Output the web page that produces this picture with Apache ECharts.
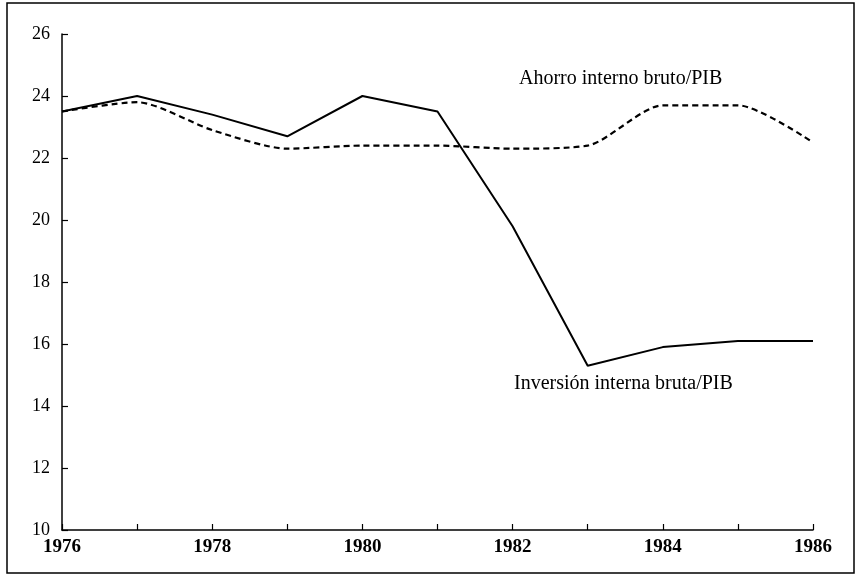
<!DOCTYPE html>
<html>
<head>
<meta charset="utf-8">
<script src="https://cdn.jsdelivr.net/npm/echarts@6/dist/echarts.min.js"></script>
<style>
html,body{margin:0;padding:0;background:#fff;}
#chart{width:859px;height:584px;}
</style>
</head>
<body>
<div id="chart"></div>
<script>
// datos
var years = [1976, 1977, 1978, 1979, 1980, 1981, 1982, 1983, 1984, 1985, 1986];
var inversion = [23.5, 24.0, 23.4, 22.7, 24.0, 23.5, 19.8, 15.3, 15.9, 16.1, 16.1];
var ahorro = [23.5, 23.8, 22.9, 22.3, 22.4, 22.4, 22.3, 22.4, 23.7, 23.7, 22.5];
var yTicks = [10, 12, 14, 16, 18, 20, 22, 24, 26];

function pares(vals){
	var out = [];
	for (var i = 0; i < years.length; i++) {
		out.push([years[i], vals[i]]);
	}
	return out;
}

var serif = 'Liberation Serif';
var myChart = echarts.init(document.getElementById('chart'));
var option = {
	animation: false,
	backgroundColor: '#fff',
	textStyle: {fontFamily: serif, color: '#000'},
	grid: {left: 62, right: 46, top: 34, bottom: 54},
	xAxis: {
		type: 'value',
		min: 1976,
		max: 1986,
		interval: 1,
		splitLine: {show: false},
		axisLine: {lineStyle: {color: '#000', width: 1.5}},
		axisTick: {inside: true, length: 6, lineStyle: {color: '#000', width: 1.2}},
		axisLabel: {
			margin: 8,
			fontSize: 19,
			fontWeight: 'bold',
			color: '#000',
			fontFamily: serif,
			formatter: function(v){ return (v % 2 === 0) ? String(v) : ''; }
		}
	},
	yAxis: {
		type: 'value',
		min: yTicks[0],
		max: yTicks[yTicks.length - 1],
		interval: 2,
		splitLine: {show: false},
		axisLine: {show: true, lineStyle: {color: '#000', width: 1.5}},
		axisTick: {show: true, inside: true, length: 6, lineStyle: {color: '#000', width: 1.2}},
		axisLabel: {margin: 12, fontSize: 18, color: '#000', fontFamily: serif}
	},
	series: [
		{
			name: 'Inversión interna bruta/PIB',
			type: 'line',
			data: pares(inversion),
			symbol: 'none',
			lineStyle: {color: '#000', width: 2}
		},
		{
			name: 'Ahorro interno bruto/PIB',
			type: 'line',
			data: pares(ahorro),
			symbol: 'none',
			smooth: 0.25,
			lineStyle: {color: '#000', width: 2.2, type: [6, 4]}
		}
	],
	graphic: [
		{
			type: 'rect',
			shape: {x: 7, y: 3, width: 847, height: 570},
			style: {fill: null, stroke: '#000', lineWidth: 1.5},
			silent: true
		},
		{
			type: 'text',
			left: 519,
			top: 69,
			style: {text: 'Ahorro interno bruto/PIB', font: '20px "Liberation Serif"', fill: '#000'}
		},
		{
			type: 'text',
			left: 514,
			top: 374,
			style: {text: 'Inversión interna bruta/PIB', font: '20px "Liberation Serif"', fill: '#000'}
		}
	]
};
myChart.setOption(option);
</script>
</body>
</html>
